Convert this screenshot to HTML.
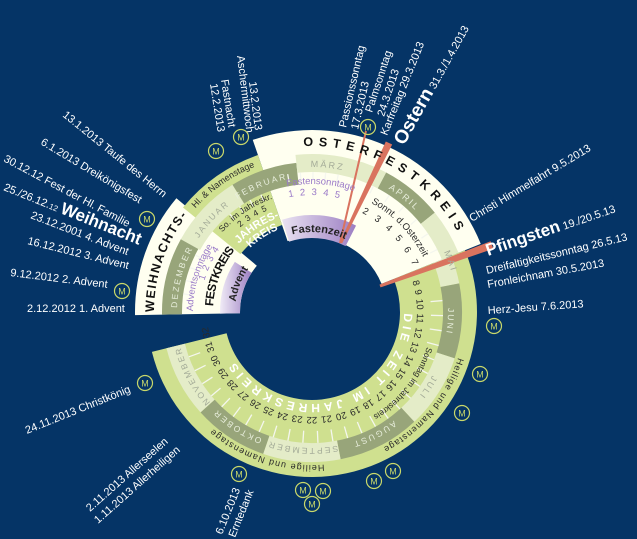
<!DOCTYPE html>
<html><head><meta charset="utf-8"><style>
html,body{margin:0;padding:0;background:#053466;}
svg{display:block;font-family:"Liberation Sans",sans-serif;}
.w{fill:#fff;font-size:11px;}
</style></head><body>
<svg id="s" width="637" height="539" viewBox="0 0 637 539" xmlns="http://www.w3.org/2000/svg">
<defs>
<linearGradient id="pf" x1="0" y1="0" x2="1" y2="0"><stop offset="0" stop-color="#e9e2f1"/><stop offset="1" stop-color="#9c7fc3"/></linearGradient>
<linearGradient id="pa" x1="0" y1="0" x2="1" y2="0"><stop offset="0" stop-color="#f0ebf6"/><stop offset="1" stop-color="#9c7fc3"/></linearGradient>
<path id="L166" d="M146 312A166 166 0 1 1 478 312A166 166 0 1 1 146 312"/>
<path id="L153" d="M159 312A153 153 0 1 1 465 312A153 153 0 1 1 159 312"/>
<path id="L156" d="M156 312A156 156 0 1 1 468 312A156 156 0 1 1 156 312"/>
<path id="L135" d="M177 312A135 135 0 1 1 447 312A135 135 0 1 1 177 312"/>
<path id="L145" d="M167 312A145 145 0 1 1 457 312A145 145 0 1 1 167 312"/>
<path id="L136" d="M176 312A136 136 0 1 1 448 312A136 136 0 1 1 176 312"/>
<path id="L92" d="M220 312A92 92 0 1 1 404 312A92 92 0 1 1 220 312"/>
<path id="L105" d="M207 312A105 105 0 1 1 417 312A105 105 0 1 1 207 312"/>
<path id="L120" d="M192 312A120 120 0 1 1 432 312A120 120 0 1 1 192 312"/>
<path id="L124" d="M188 312A124 124 0 1 1 436 312A124 124 0 1 1 188 312"/>
<path id="L111" d="M201 312A111 111 0 1 1 423 312A111 111 0 1 1 201 312"/>
<path id="L128" d="M184 312A128 128 0 1 1 440 312A128 128 0 1 1 184 312"/>
<path id="L117" d="M195 312A117 117 0 1 1 429 312A117 117 0 1 1 195 312"/>
<path id="L80" d="M232 312A80 80 0 1 1 392 312A80 80 0 1 1 232 312"/>
<path id="L100" d="M212 312A100 100 0 1 1 412 312A100 100 0 1 1 212 312"/>
<path id="L89" d="M223 312A89 89 0 1 1 401 312A89 89 0 1 1 223 312"/>
<path id="B158" d="M312 470A158 158 0 1 1 312 154A158 158 0 1 1 312 470"/>
<path id="B135" d="M312 447A135 135 0 1 1 312 177A135 135 0 1 1 312 447"/>
<path id="B119" d="M312 431A119 119 0 1 1 312 193A119 119 0 1 1 312 431"/>
<path id="B112" d="M312 424A112 112 0 1 1 312 200A112 112 0 1 1 312 424"/>
<path id="B97" d="M312 411A99 99 0 1 1 312 213A99 99 0 1 1 312 411"/>
<path id="B77" d="M312 389A77 77 0 1 1 312 235A77 77 0 1 1 312 389"/>
</defs>
<rect width="637" height="539" fill="#053466"/>
<g id="shapes"></g>

<polygon points="379.5,284.6 490.6,241.2 493.4,248.8 380.5,287.4" fill="#d9735f"/>
<polygon points="339.9,242.5 385.8,141.5 392.2,144.5 342.1,243.5" fill="#d9735f"/>
<line x1="340" y1="243" x2="366" y2="131" stroke="#d9735f" stroke-width="2"/>

<g font-size="9" fill="#2a2a2a">
<text font-size="12.5" font-weight="bold" letter-spacing="5.5" fill="#111"><textPath href="#L166" startOffset="33.3%" text-anchor="middle">OSTERFESTKREIS</textPath></text>
<text><textPath href="#L156" startOffset="15.3%" text-anchor="middle">Hl. &amp; Namenstage</textPath></text>
<text fill="#e8eedc" letter-spacing="2" font-size="8.5"><textPath href="#L135" startOffset="18.9%" text-anchor="middle">FEBRUAR</textPath></text>
<text fill="#a4ab98" letter-spacing="2" font-size="8.5"><textPath href="#L135" startOffset="11.9%" text-anchor="middle">JANUAR</textPath></text>
<text fill="#e8eedc" letter-spacing="2" font-size="8.5"><textPath href="#B135" startOffset="29.2%" text-anchor="middle">DEZEMBER</textPath></text>
<text fill="#a4ab98" letter-spacing="2" font-size="9"><textPath href="#L145" startOffset="26.7%" text-anchor="middle">MÄRZ</textPath></text>
<text fill="#e8eedc" letter-spacing="2" font-size="9"><textPath href="#L145" startOffset="35.8%" text-anchor="middle">APRIL</textPath></text>
<text fill="#a4ab98" letter-spacing="2" font-size="9"><textPath href="#L145" startOffset="44.4%" text-anchor="middle">MAI</textPath></text>
<text fill="#e8eedc" letter-spacing="2" font-size="8.5"><textPath href="#L136" startOffset="51.1%" text-anchor="middle">JUNI</textPath></text>
<text fill="#a4ab98" letter-spacing="2" font-size="8.5"><textPath href="#L136" startOffset="59.2%" text-anchor="middle">JULI</textPath></text>
<text fill="#e8eedc" letter-spacing="2" font-size="8.5"><textPath href="#L136" startOffset="67.5%" text-anchor="middle">AUGUST</textPath></text>
<text fill="#a4ab98" letter-spacing="2" font-size="8.5"><textPath href="#L136" startOffset="76.1%" text-anchor="middle">SEPTEMBER</textPath></text>
<text fill="#e8eedc" letter-spacing="2" font-size="8.5"><textPath href="#L136" startOffset="84.2%" text-anchor="middle">OKTOBER</textPath></text>
<text fill="#a4ab98" letter-spacing="2" font-size="8.5"><textPath href="#L136" startOffset="92.2%" text-anchor="middle">NOVEMBER</textPath></text>
<text letter-spacing="1"><textPath href="#L153" startOffset="61.1%" text-anchor="middle">Heilige und Namenstage</textPath></text>
<text letter-spacing="1"><textPath href="#L153" startOffset="80%" text-anchor="middle">Heilige und Namenstage</textPath></text>
<text fill="#fff" font-weight="bold" font-size="12" letter-spacing="3.6"><textPath href="#L92" startOffset="70.8%" text-anchor="middle">DIE ZEIT IM JAHRESKREIS</textPath></text>
<text font-size="9.5" word-spacing="1.2"><textPath href="#L105" startOffset="71.5%" text-anchor="middle">8 9 10 11 12 13 14 15 16 17 18 19 20 21 22 23 24 25 26 27 28 29 30 31 32</textPath></text>
<text font-size="8.5"><textPath href="#L120" startOffset="60.6%" text-anchor="middle">Sonntag im Jahreskreis</textPath></text>
<text font-size="9.5"><textPath href="#L124" startOffset="37.8%" text-anchor="middle">Sonnt. d.Osterzeit</textPath></text>
<text font-size="9.5" word-spacing="6"><textPath href="#L111" startOffset="37.8%" text-anchor="middle">2 3 4 5 6 7</textPath></text>
<text font-size="9.5" fill="#9a7ac8"><textPath href="#L128" startOffset="26.1%" text-anchor="middle">Fastensonntage</textPath></text>
<text font-size="9.5" fill="#9a7ac8" word-spacing="3.5"><textPath href="#L117" startOffset="25.3%" text-anchor="middle">1 2 3 4 5</textPath></text>
<text font-size="11" font-weight="bold" fill="#222"><textPath href="#L80" startOffset="26.4%" text-anchor="middle">Fastenzeit</textPath></text>
<text font-size="8.5"><textPath href="#L120" startOffset="15.6%" text-anchor="middle">So. im Jahreskr.</textPath></text>
<text font-size="8.5" word-spacing="2"><textPath href="#L111" startOffset="16.1%" text-anchor="middle">2 3 4 5</textPath></text>
<text font-size="11" font-weight="bold" fill="#fff"><textPath href="#L100" startOffset="15.8%" text-anchor="middle">JAHRES-</textPath></text>
<text font-size="11" font-weight="bold" fill="#fff"><textPath href="#L89" startOffset="15.8%" text-anchor="middle">KREIS</textPath></text>
<text font-size="12.5" font-weight="bold" letter-spacing="1.5" fill="#111"><textPath href="#B158" startOffset="30.3%" text-anchor="middle">WEIHNACHTS-</textPath></text>
<text font-size="9.5" fill="#9a7ac8"><textPath href="#B119" startOffset="29.7%" text-anchor="middle">Adventsonntage</textPath></text>
<text font-size="9.5" fill="#9a7ac8" word-spacing="2"><textPath href="#B112" startOffset="32%" text-anchor="middle">1 2 3 4</textPath></text>
<text font-size="12" font-weight="bold" fill="#111" letter-spacing="-0.8"><textPath href="#B97" startOffset="30.8%" text-anchor="middle">FESTKREIS</textPath></text>
<text font-size="10.5" font-weight="bold" fill="#222"><textPath href="#B77" startOffset="30.8%" text-anchor="middle">Advent</textPath></text>
</g>

<g class="w">
<text transform="translate(62,116) rotate(39)">13.1.2013 Taufe des Herrn</text>
<text transform="translate(40,144) rotate(31)">6.1.2013 Dreikönigsfest</text>
<text transform="translate(3,161) rotate(28)">30.12.12 Fest der Hl. Familie</text>
<text transform="translate(3,190) rotate(22)">25./26.12.<tspan font-size="8">12</tspan> <tspan font-size="17" font-weight="bold">Weihnacht</tspan></text>
<text transform="translate(30,218) rotate(21)">23.12.2001 4. Advent</text>
<text transform="translate(27,244) rotate(14)">16.12.2012 3. Advent</text>
<text transform="translate(10,276) rotate(7)">9.12.2012 2. Advent</text>
<text transform="translate(27,312)">2.12.2012 1. Advent</text>
<text transform="translate(237,56) rotate(83)">Aschermittwoch</text>
<text transform="translate(249,82) rotate(83)">13.2.2013</text>
<text transform="translate(221,80) rotate(81)">Fastnacht</text>
<text transform="translate(210,84) rotate(81)">12.2.2013</text>
<text transform="translate(346,128) rotate(-77)">Passionssonntag</text>
<text transform="translate(358,130) rotate(-77)">17.3.2013</text>
<text transform="translate(372,113) rotate(-72)">Palmsonntag</text>
<text transform="translate(384,117) rotate(-72)">24.3.2013</text>
<text transform="translate(387,136) rotate(-68)">Karfreitag 29.3.2013</text>
<text transform="translate(404,146) rotate(-61)"><tspan font-size="19" font-weight="bold">Ostern</tspan> 31.3./1.4.2013</text>
<text transform="translate(472,222) rotate(-31)">Christi Himmelfahrt 9.5.2013</text>
<text transform="translate(488,256) rotate(-19)"><tspan font-size="17" font-weight="bold">Pfingsten</tspan> 19./20.5.13</text>
<text transform="translate(487,274) rotate(-13.5)">Dreifaltigkeitssonntag 26.5.13</text>
<text transform="translate(488,288) rotate(-10.5)">Fronleichnam 30.5.2013</text>
<text transform="translate(488,314) rotate(-4)">Herz-Jesu 7.6.2013</text>
<text transform="translate(27,434) rotate(-22)">24.11.2013 Christkönig</text>
<text transform="translate(90,512) rotate(-41.5)">2.11.2013 Allerseelen</text>
<text transform="translate(98,524) rotate(-41.5)">1.11.2013 Allerheiligen</text>
<text transform="translate(222,535) rotate(-68)">6.10.2013</text>
<text transform="translate(235,538) rotate(-68)">Erntedank</text>
</g>
<g id="ms" fill="none" stroke="#c9d86a" stroke-width="1.2"></g>
<g font-size="9" fill="#c9d86a" text-anchor="middle">
<text x="216" y="154.5">M</text><text x="241" y="140.5">M</text><text x="147" y="222.5">M</text>
<text x="122" y="294.5">M</text><text x="368" y="130.5">M</text><text x="494" y="329.5">M</text>
<text x="480" y="377.5">M</text><text x="462" y="416.5">M</text><text x="393" y="474.5">M</text>
<text x="374" y="484.5">M</text><text x="303" y="493.5">M</text><text x="323" y="494.5">M</text>
<text x="312" y="507.5">M</text><text x="239" y="477.5">M</text><text x="145" y="386.5">M</text>
</g>
<script>
(function(){
var cx=312,cy=312,NS="http://www.w3.org/2000/svg",g=document.getElementById("shapes");
function P(r,a){a=a*Math.PI/180;return (cx+r*Math.cos(a)).toFixed(2)+" "+(cy-r*Math.sin(a)).toFixed(2);}
function arc(r1,r2,a1,a2,f){var l=(a2-a1)>180?1:0;
var d="M"+P(r2,a1)+"A"+r2+" "+r2+" 0 "+l+" 0 "+P(r2,a2)+"L"+P(r1,a2)+"A"+r1+" "+r1+" 0 "+l+" 1 "+P(r1,a1)+"Z";
var p=document.createElementNS(NS,"path");p.setAttribute("d",d);p.setAttribute("fill",f);g.appendChild(p);}
function ln(r1,r2,a){var p=document.createElementNS(NS,"path");p.setAttribute("d","M"+P(r1,a)+"L"+P(r2,a));p.setAttribute("stroke","#f4f6ee");p.setAttribute("stroke-width","1.3");g.appendChild(p);}
var W="#fffff0",G="#cfe08f",D="#98a57a",Lt="#e4ecc8";
arc(72,177,140,181,W);
arc(75,182,22,109,W);
arc(92,166,109,141,G);
arc(128,150,122,151,Lt);
arc(128,150,96,122,D);
arc(130,150,151,181,D);
arc(140,158,62,96,Lt);arc(140,158,39,62,D);arc(140,158,22,39,Lt);
arc(74,97,63,108,"url(#pf)");
arc(72,92,147,181,"url(#pa)");
arc(88,165,-166,22,G);
arc(131,150,11,22,Lt);arc(131,150,-18,11,D);arc(131,150,-47,-18,Lt);arc(131,150,-79,-47,D);
arc(131,150,-109,-79,Lt);arc(131,150,-138,-109,D);arc(131,150,-166,-138,Lt);
for(var a=5;a>-162;a-=6.6)ln(119,131,a);
for(var a=100;a>76;a-=5.2)ln(132,140,a);
for(var a=64;a>24;a-=7.5)ln(132,140,a);
for(var a=130;a>110;a-=5.5)ln(121,128,a);
for(var a=172;a>150;a-=6)ln(121,130,a);
var ms=[[216,151],[241,137],[147,219],[122,291],[368,127],[494,326],[480,374],[462,413],[393,471],[374,481],[303,490],[323,491],[312,504],[239,474],[145,383]];
var mg=document.getElementById("ms");
ms.forEach(function(m){var c=document.createElementNS(NS,"circle");c.setAttribute("cx",m[0]);c.setAttribute("cy",m[1]);c.setAttribute("r",7.5);mg.appendChild(c);});
})();
</script>
</svg>
</body></html>
